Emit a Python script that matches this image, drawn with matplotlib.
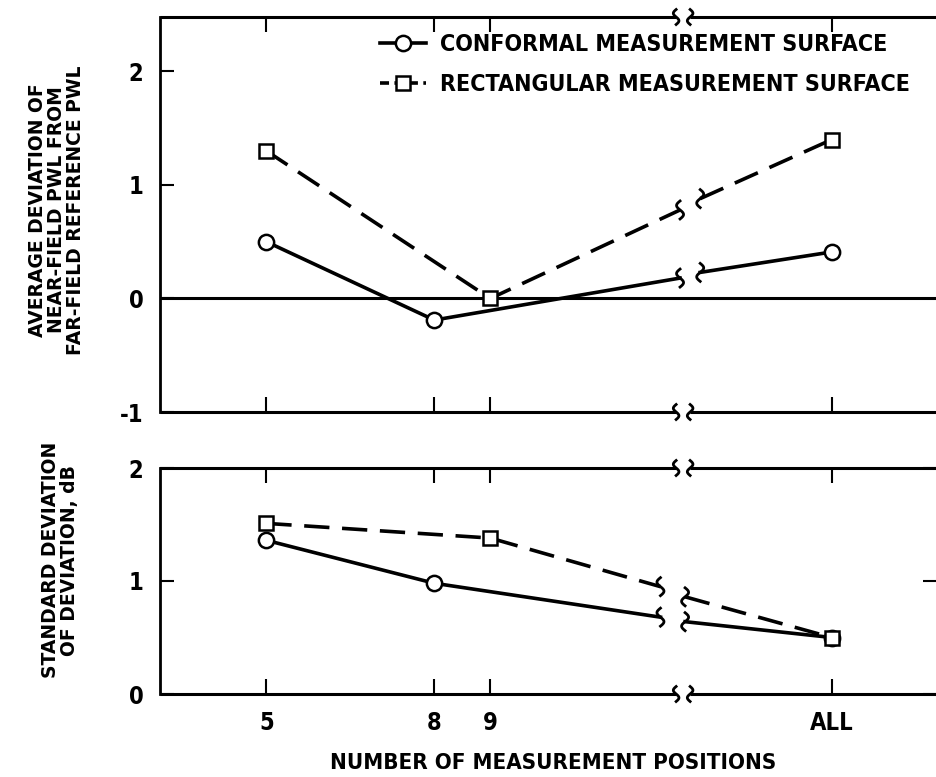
import numpy as np
import matplotlib
matplotlib.use('Agg')
import matplotlib.pyplot as plt
from matplotlib import transforms, font_manager
from matplotlib.lines import Line2D

plt.rcParams['axes.unicode_minus'] = False

# x positions of measurement counts ("ALL" placed on its own scale past the break)
x_ticks = [5, 8, 9, 15.1]
x_ticklabels = ['5', '8', '9', 'ALL']

# average deviation (top panel)
top_conf_x = [5, 8, 15.1]
top_conf_y = [0.50, -0.19, 0.41]
top_conf_brk = [0.18, 0.23]   # value at left / right side of the break
top_rect_x = [5, 9, 15.1]
top_rect_y = [1.30, 0.00, 1.40]
top_rect_brk = [0.78, 0.88]

# standard deviation (bottom panel)
bot_conf_x = [5, 8, 15.1]
bot_conf_y = [1.36, 0.98, 0.50]
bot_conf_brk = [0.68, 0.64]
bot_rect_x = [5, 9, 15.1]
bot_rect_y = [1.51, 1.38, 0.50]
bot_rect_brk = [0.95, 0.86]

labels = ['CONFORMAL MEASUREMENT SURFACE', 'RECTANGULAR MEASUREMENT SURFACE']

X_MIN, X_MAX = 3.1, 16.98
AXIS_BRK = (12.32, 12.57)
TOP_LINE_BRK = (12.39, 12.75)
BOT_LINE_BRK = (12.04, 12.48)


def cond(size):
    return font_manager.FontProperties(family='DejaVu Sans', weight='bold',
                                       stretch='condensed', size=size)


fig = plt.figure(figsize=(9.37, 7.77), dpi=100)
ax1 = fig.add_axes([160 / 937, 1 - 412 / 777, 1 - 160 / 937, (412 - 17) / 777])
ax2 = fig.add_axes([160 / 937, 1 - 694 / 777, 1 - 160 / 937, (694 - 468) / 777])


def curl(ax, x, y, mirror=False, h=0.075, a=0.028, lw=2.0):
    t = np.linspace(-1, 1, 40)
    dx = a * np.sin(np.pi * t) * (-1 if mirror else 1)
    dy = h * t
    trans = fig.dpi_scale_trans + transforms.ScaledTranslation(x, y, ax.transData)
    ax.plot(dx, dy, color='k', lw=lw, transform=trans, clip_on=False, zorder=5)


def frame(ax, ylo, yhi, yticks):
    ax.set_xlim(X_MIN, X_MAX)
    ax.set_ylim(ylo, yhi)
    for s in ['top', 'bottom', 'right']:
        ax.spines[s].set_visible(False)
    ax.spines['left'].set_linewidth(2)
    for yy in (ylo, yhi):
        ax.plot([X_MIN, AXIS_BRK[0]], [yy, yy], color='k', lw=2.2, clip_on=False, solid_capstyle='butt')
        ax.plot([AXIS_BRK[1], X_MAX], [yy, yy], color='k', lw=2.2, clip_on=False, solid_capstyle='butt')
        curl(ax, AXIS_BRK[0], yy, mirror=True)
        curl(ax, AXIS_BRK[1], yy)
    ax.set_xticks(x_ticks)
    ax.set_yticks(yticks)
    ax.tick_params(axis='x', direction='in', top=True, bottom=True, length=11, width=1.5, pad=12)
    ax.tick_params(axis='y', direction='in', left=True, length=10, width=1.5, pad=12)
    for lab in ax.get_yticklabels():
        lab.set_fontproperties(cond(17))


def series(ax, xs, ys, brk_vals, brk_x, ls, marker, ms):
    left = [(x, y) for x, y in zip(xs, ys) if x < brk_x[0]]
    right = [(x, y) for x, y in zip(xs, ys) if x > brk_x[1]]
    lx = [p[0] for p in left] + [brk_x[0]]
    ly = [p[1] for p in left] + [brk_vals[0]]
    rx = [brk_x[1]] + [p[0] for p in right]
    ry = [brk_vals[1]] + [p[1] for p in right]
    ax.plot(lx, ly, color='k', lw=2.6, linestyle=ls, zorder=3)
    ax.plot(rx, ry, color='k', lw=2.6, linestyle=ls, zorder=3)
    curl(ax, brk_x[0], brk_vals[0], mirror=True, h=0.09, a=0.035)
    curl(ax, brk_x[1], brk_vals[1], h=0.09, a=0.035)
    ax.plot(xs, ys, linestyle='none', marker=marker, ms=ms, mfc='white', mec='k', mew=1.8, zorder=4)


dash = (0, (7, 3.5))

# top panel
frame(ax1, -1, 2.48, [-1, 0, 1, 2])
ax1.axhline(0, color='k', lw=2.2, zorder=2)
series(ax1, top_conf_x, top_conf_y, top_conf_brk, TOP_LINE_BRK, '-', 'o', 11)
series(ax1, top_rect_x, top_rect_y, top_rect_brk, TOP_LINE_BRK, dash, 's', 10)
ax1.set_xticklabels([])

# bottom panel
frame(ax2, 0, 2, [0, 1, 2])
ax2.tick_params(axis='y', right=True, length=10)
series(ax2, bot_conf_x, bot_conf_y, bot_conf_brk, BOT_LINE_BRK, '-', 'o', 11)
series(ax2, bot_rect_x, bot_rect_y, bot_rect_brk, BOT_LINE_BRK, dash, 's', 10)
ax2.set_xticklabels(x_ticklabels)
for lab in ax2.get_xticklabels():
    lab.set_fontproperties(cond(17))

handles = [Line2D([], [], color='k', lw=2.6, marker='o', ms=11, mfc='white', mec='k', mew=1.8),
           Line2D([], [], color='k', lw=2.6, linestyle=(0, (2.5, 1.5)), marker='s', ms=10,
                  mfc='white', mec='k', mew=1.8)]
ax1.legend(handles, labels, loc='upper left', bbox_to_anchor=(380 / 937, 1 - 33 / 777),
           bbox_transform=fig.transFigure, frameon=False, handlelength=2.0, handletextpad=0.6,
           labelspacing=0.72, borderpad=0, borderaxespad=0, prop=cond(16.7))

yl = dict(family='DejaVu Sans', weight='bold', size=13.5, rotation=90,
          ha='center', va='center', multialignment='center', linespacing=1.0)
fig.text(57 / 937, 1 - 210 / 777, 'AVERAGE DEVIATION OF\nNEAR-FIELD PWL FROM\nFAR-FIELD REFERENCE PWL', **yl)
fig.text(60 / 937, 1 - 560 / 777, 'STANDARD DEVIATION\nOF DEVIATION, dB', **yl)

fig.text(553 / 937, 1 - 763 / 777, 'NUMBER OF MEASUREMENT POSITIONS', ha='center', va='center',
         fontproperties=cond(16))

fig.savefig('out.png', dpi=100)
